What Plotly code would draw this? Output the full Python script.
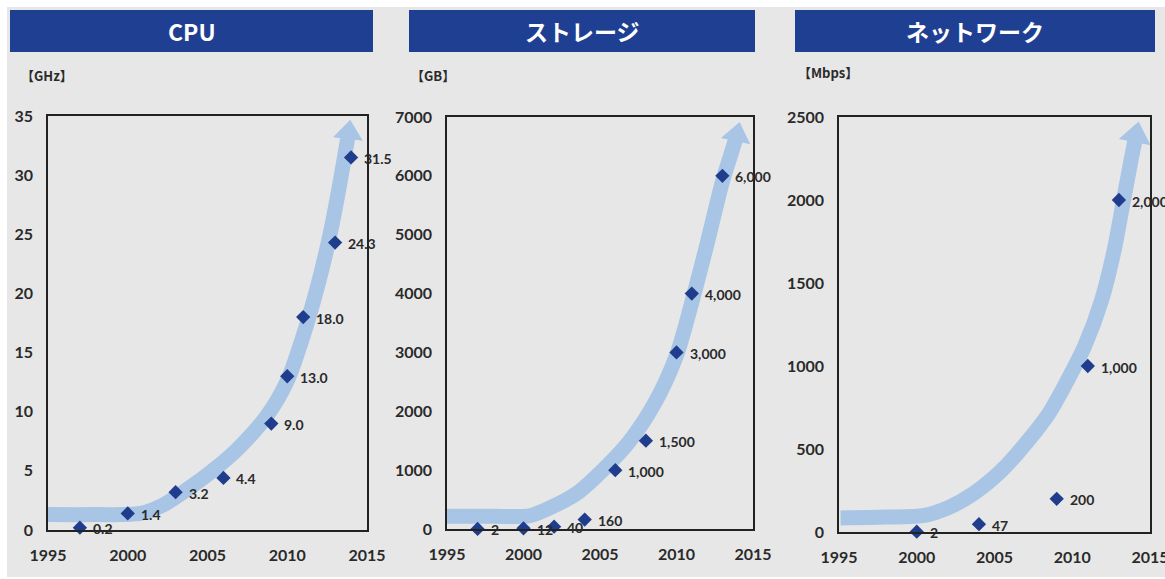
import plotly.graph_objects as go

W, H = 1165, 579

# ---------------- data ----------------
panel_titles = ["CPU", "ストレージ", "ネットワーク"]
unit_labels = ["【GHz】", "【GB】", "【Mbps】"]

years_cpu = [1997, 2000, 2003, 2006, 2009, 2010, 2011, 2013, 2014]
cpu_ghz = [0.2, 1.4, 3.2, 4.4, 9.0, 13.0, 18.0, 24.3, 31.5]

years_storage = [1997, 2000, 2002, 2004, 2006, 2008, 2010, 2011, 2013]
storage_gb = [2, 12, 40, 160, 1000, 1500, 3000, 4000, 6000]

years_network = [2000, 2004, 2009, 2011, 2013]
network_mbps = [2, 47, 200, 1000, 2000]

# hand-drawn trend arrows
trend_cpu_x = [1995.0, 1998.0, 2000.8, 2002.2, 2003.7, 2005.4, 2007.0, 2008.7, 2010.0, 2010.9, 2011.9, 2012.7, 2013.3, 2013.85]
trend_cpu_y = [1.3, 1.3, 1.4, 2.1, 3.4, 5.1, 7.0, 9.6, 12.6, 16.0, 20.6, 25.1, 29.3, 33.6]

trend_storage_x = [1995.0, 1998.0, 2000.4, 2001.7, 2003.5, 2005.2, 2006.9, 2008.6, 2010.0, 2011.0, 2012.0, 2013.0, 2013.6, 2013.95]
trend_storage_y = [215, 215, 225, 356, 610, 1006, 1480, 2150, 2950, 3850, 4850, 5900, 6400, 6700]

trend_network_x = [1995.1, 1998.0, 2000.5, 2002.0, 2003.7, 2005.5, 2007.2, 2008.5, 2009.7, 2010.8, 2011.9, 2012.7, 2013.3, 2013.8, 2014.1]
trend_network_y = [85, 90, 100, 145, 235, 375, 555, 715, 915, 1120, 1400, 1700, 2000, 2250, 2390]

x_range = [1995, 2015]
y_ranges = [[0, 35], [0, 7000], [0, 2500]]
y_dticks = [5, 1000, 500]
x_ticks = [1995, 2000, 2005, 2010, 2015]

# ---------------- styling ----------------
BG = "#e7e7e7"
BAR = "#1f4092"
MARK = "#1f3d8c"
TREND = "#a9c5e5"
TXT = "#2a2a2a"
FONT = "Lato"
CJK = "Noto Sans CJK JP"

# pixel boxes of the three plot areas: (left, right, top, bottom)
boxes = [(48, 367, 116, 530), (447, 753, 117, 529), (839, 1150, 117, 532)]
bars = [(10, 373), (409, 755), (795, 1155)]
unit_pos = [(19, 75), (409, 75), (796, 72)]
head_angles = [7, 12, 11]
head_sizes = [26, 26, 28]


def fx(px):
    return px / W


def fy(py):
    return 1 - py / H


def fmt_cpu(v):
    return f"{v:.1f}"


def fmt_int(v):
    return f"{v:,.0f}"


panels = [
    (years_cpu, cpu_ghz, fmt_cpu, trend_cpu_x, trend_cpu_y),
    (years_storage, storage_gb, fmt_int, trend_storage_x, trend_storage_y),
    (years_network, network_mbps, fmt_int, trend_network_x, trend_network_y),
]

fig = go.Figure()
annotations = []
shapes = [
    dict(type="rect", xref="paper", yref="paper", x0=fx(7), x1=1, y0=fy(577), y1=fy(7),
         fillcolor=BG, line=dict(width=0), layer="below"),
]

for i, (xs, ys, fmt, tx, ty) in enumerate(panels):
    n = "" if i == 0 else str(i + 1)
    xa, ya = "x" + n, "y" + n
    l, r, t, b = boxes[i]

    # trend arrow body
    fig.add_trace(go.Scatter(x=tx, y=ty, xaxis=xa, yaxis=ya, mode="lines",
                             line=dict(color=TREND, width=15, shape="spline", smoothing=0.8),
                             hoverinfo="skip", cliponaxis=False, showlegend=False))
    # arrow head
    fig.add_trace(go.Scatter(x=tx[-1:], y=ty[-1:], xaxis=xa, yaxis=ya, mode="markers",
                             marker=dict(symbol="triangle-up", size=head_sizes[i], color=TREND,
                                         angle=head_angles[i], line=dict(width=0)),
                             hoverinfo="skip", cliponaxis=False, showlegend=False))
    # data points
    fig.add_trace(go.Scatter(x=xs, y=ys, xaxis=xa, yaxis=ya, mode="markers",
                             marker=dict(symbol="diamond", size=11, color=MARK, line=dict(width=0)),
                             cliponaxis=False, showlegend=False))
    for xv, yv in zip(xs, ys):
        annotations.append(dict(x=xv, y=yv, xref=xa, yref=ya, text=fmt(yv), showarrow=False,
                                xanchor="left", yanchor="middle", xshift=11, yshift=-1,
                                font=dict(family=FONT, size=14, color=TXT, weight="bold")))

    axis_common = dict(showgrid=False, zeroline=False, showline=True, mirror=True,
                       linecolor="#222222", linewidth=1.5, ticks="", automargin=False,
                       ticklabeloverflow="allow",
                       tickfont=dict(family=FONT, size=16, color=TXT, weight="bold"),
                       ticklabelstandoff=10, fixedrange=True)
    fig.update_layout(**{
        "xaxis" + n: dict(domain=[fx(l), fx(r)], range=x_range, tickvals=x_ticks,
                          anchor=ya, **axis_common),
        "yaxis" + n: dict(domain=[fy(b), fy(t)], range=y_ranges[i], dtick=y_dticks[i],
                          anchor=xa, **axis_common),
    })

    # title bar
    bx0, bx1 = bars[i]
    shapes.append(dict(type="rect", xref="paper", yref="paper", x0=fx(bx0), x1=fx(bx1),
                       y0=fy(52), y1=fy(10), fillcolor=BAR, line=dict(width=0)))
    annotations.append(dict(x=fx((bx0 + bx1) / 2), y=fy(31), xref="paper", yref="paper",
                            text=panel_titles[i], showarrow=False, xanchor="center", yanchor="middle",
                            font=dict(family=CJK, size=23, color="white", weight="bold")))
    ux, uy = unit_pos[i]
    annotations.append(dict(x=fx(ux), y=fy(uy), xref="paper", yref="paper",
                            text=unit_labels[i], showarrow=False, xanchor="left", yanchor="middle",
                            font=dict(family=CJK, size=13, color=TXT, weight="bold")))

fig.update_layout(width=W, height=H, margin=dict(l=0, r=0, t=0, b=0, autoexpand=False),
                  paper_bgcolor="white", plot_bgcolor=BG,
                  annotations=annotations, shapes=shapes, showlegend=False)

fig.write_html("out.html")
